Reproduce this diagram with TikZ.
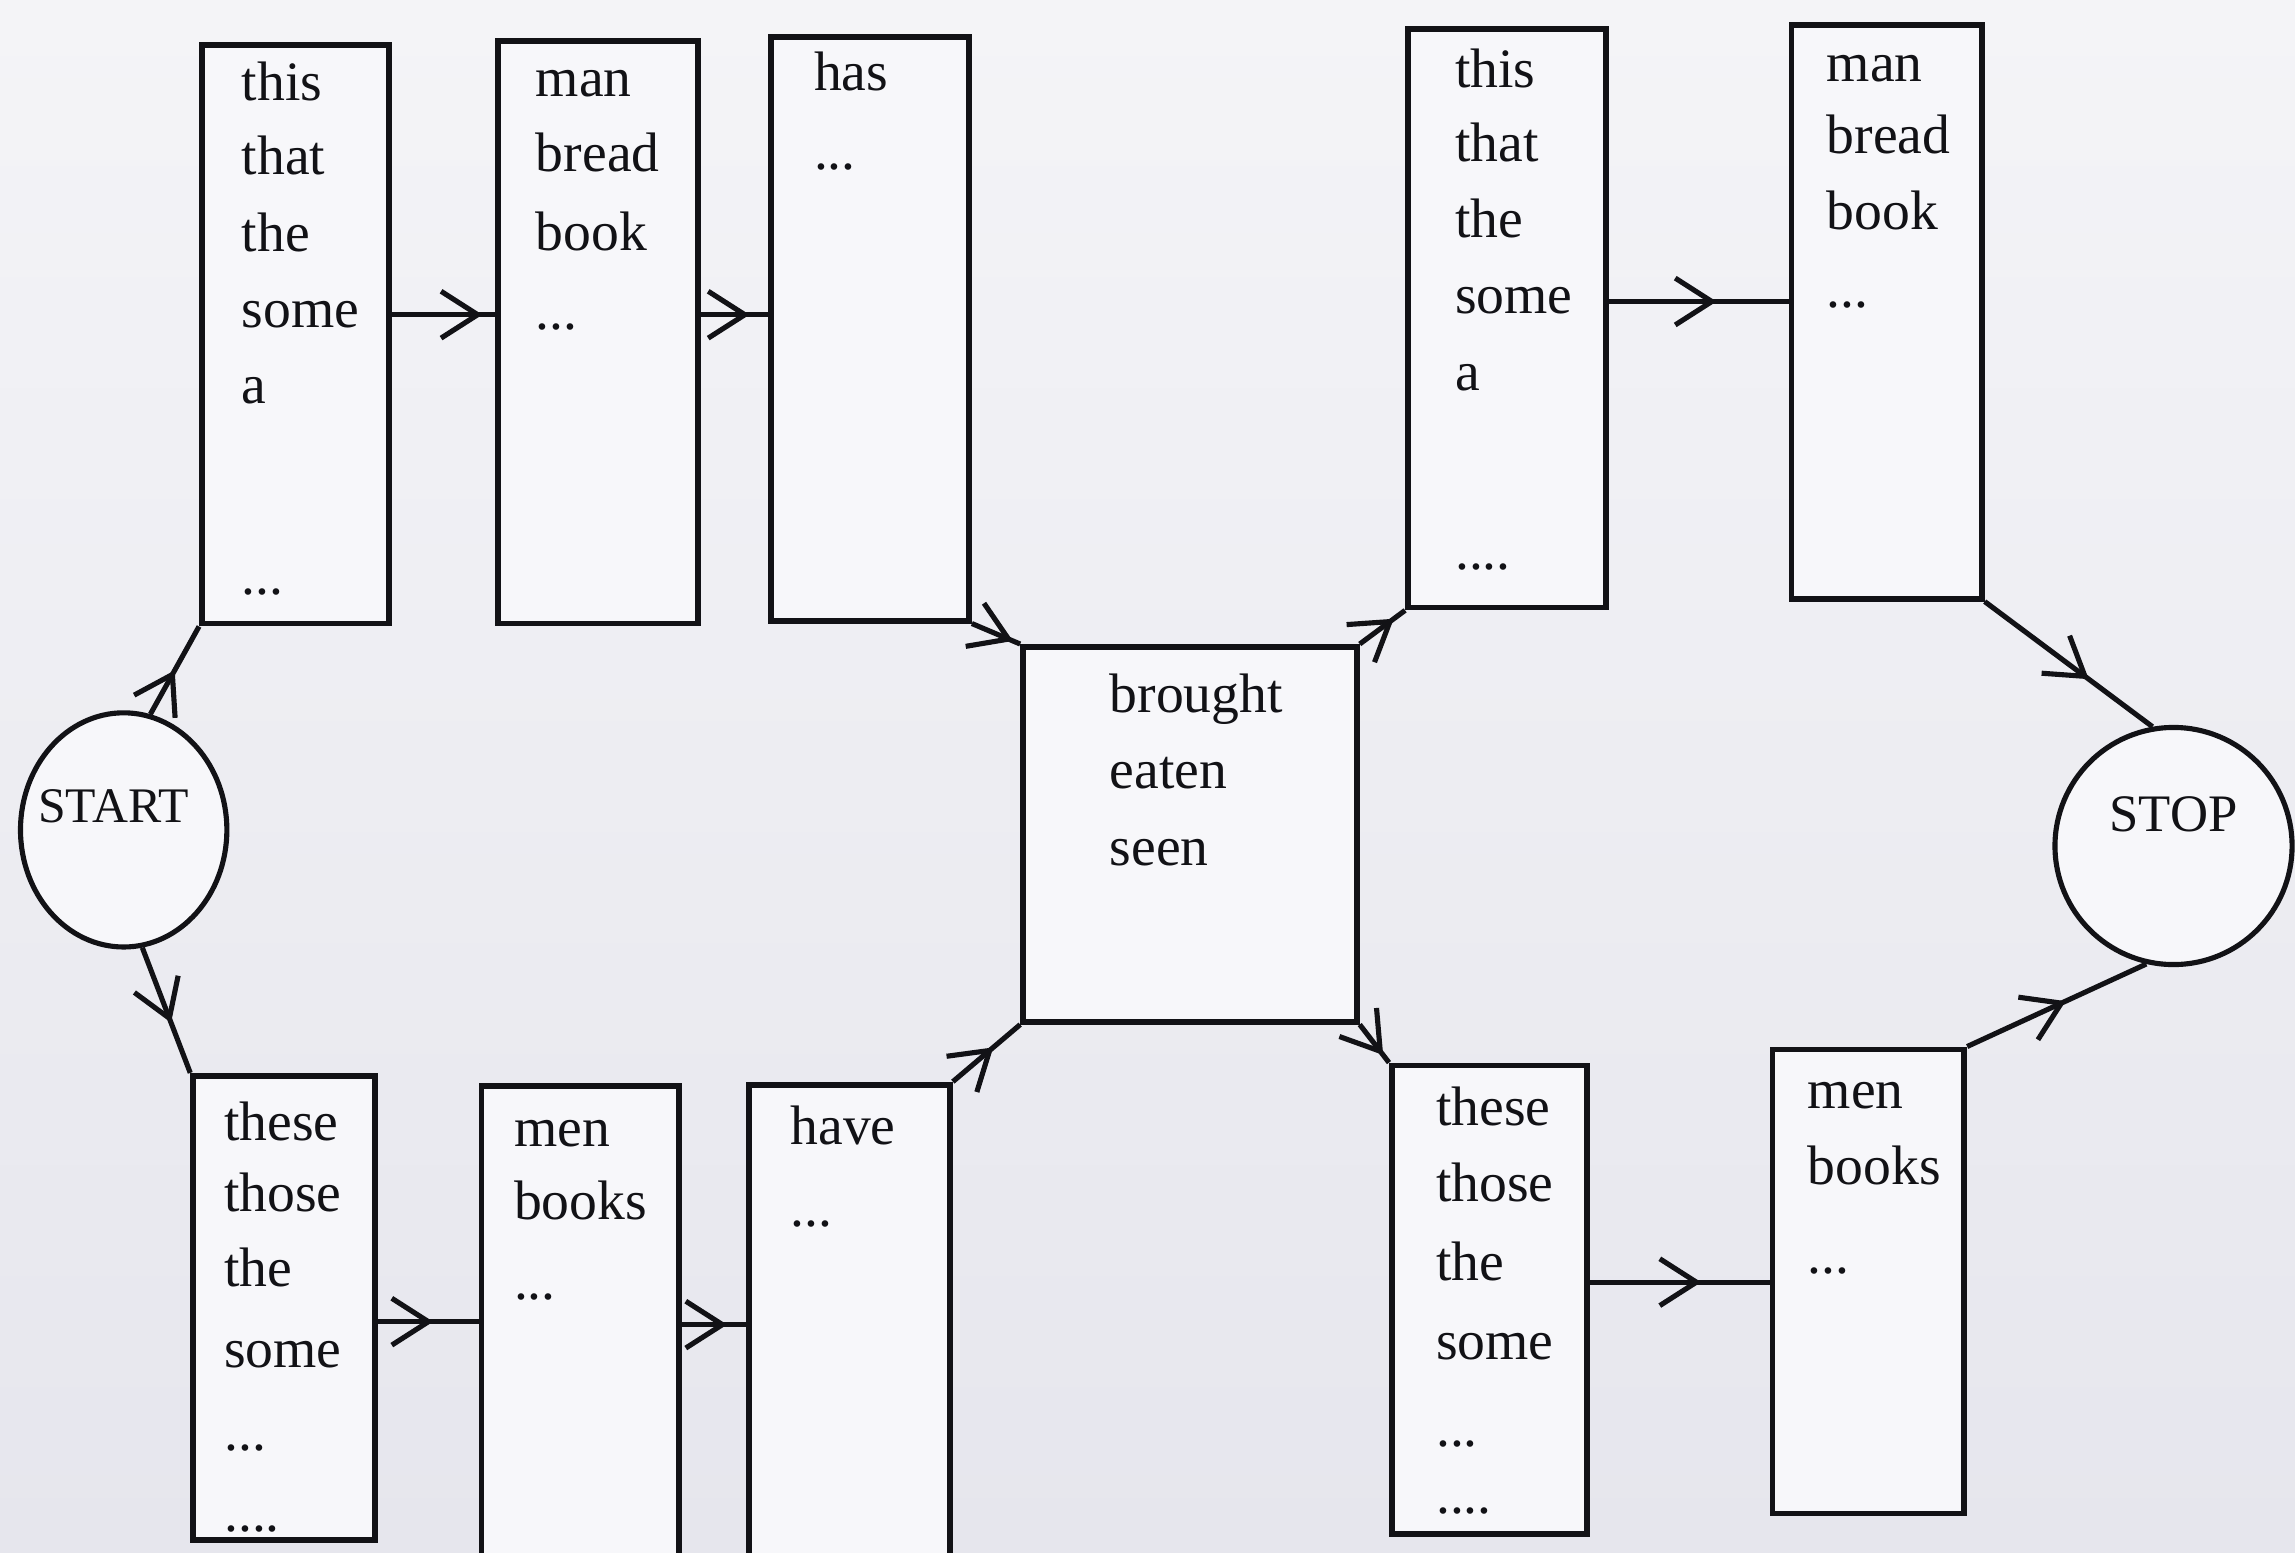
\documentclass[tikz,border=0pt]{standalone}
\usepackage{fontspec}
\setmainfont{Liberation Serif}
\usetikzlibrary{arrows.meta,decorations.markings,shapes.geometric}
\definecolor{bgtop}{RGB}{244,244,247}
\definecolor{bgbot}{RGB}{230,230,237}
\definecolor{boxfill}{RGB}{247,247,250}
\definecolor{ink}{RGB}{18,18,22}
\newcommand\mydthree{...}
\newcommand\mydfour{....}
\begin{document}
\begin{tikzpicture}[x=1pt,y=-1pt,
  box/.style={draw=ink, line width=4pt, fill=boxfill, rectangle, inner sep=0pt, anchor=north west},
  word/.style={anchor=base west, inner sep=0pt, text=ink, font=\fontsize{38}{40}\selectfont},
  term/.style={draw=ink, line width=3.5pt, inner sep=0pt, text=ink, fill=boxfill},
  flow/.style={draw=ink, line width=3.5pt, postaction={decorate},
    decoration={markings, mark=at position #1 with {\arrow{Straight Barb[length=25pt,width=32pt,line width=3.5pt]}}}}
]
\useasboundingbox (0,0) rectangle (1568,1061);
\shade[top color=bgtop, bottom color=bgbot] (0,0) rectangle (1568,1061);
\clip (0,0) rectangle (1568,1061);

% terminals
\node[term, ellipse, minimum width=141pt, minimum height=160pt, font=\fontsize{34}{36}\selectfont] (start) at (84.5,567)
  {\makebox[0pt]{\raisebox{5pt}[0pt][0pt]{START}\hspace{14pt}}};
\node[term, circle, minimum size=162pt, font=\fontsize{36}{38}\selectfont] (stop) at (1485,578)
  {\makebox[0pt]{\raisebox{10pt}[0pt][0pt]{STOP}}};

% upper row
\node[box, minimum width=128pt, minimum height=395pt] (a1) at (136,29) {};
\node[box, minimum width=137pt, minimum height=398pt] (a2) at (338,26) {};
\node[box, minimum width=135pt, minimum height=399pt] (a3) at (525,23) {};
\node[box, minimum width=228pt, minimum height=256pt] (ctr) at (697,440) {};
\node[box, minimum width=135pt, minimum height=395pt] (a4) at (960,18) {};
\node[box, minimum width=130pt, minimum height=392pt] (a5) at (1222,15) {};
% lower row
\node[box, minimum width=124pt, minimum height=317pt] (b1) at (130,733) {};
\node[box, minimum width=135pt, minimum height=340pt] (b2) at (327,740) {};
\node[box, minimum width=137pt, minimum height=340pt] (b3) at (510,739) {};
\node[box, minimum width=133pt, minimum height=320pt] (b4) at (949,726) {};
\node[box, minimum width=131pt, minimum height=317pt] (b5) at (1209,715) {};

% words
\foreach \w/\yy [count=\i] in {this/69, that/119, the/172, some/224, a/276, \mydthree/406}
  \node[word] (a1w\i) at (165,\yy) {\w};
\foreach \w/\yy [count=\i] in {man/66, bread/117, book/171, \mydthree/225}
  \node[word] (a2w\i) at (366,\yy) {\w};
\foreach \w/\yy [count=\i] in {has/62, \mydthree/116}
  \node[word] (a3w\i) at (556,\yy) {\w};
\foreach \w/\yy [count=\i] in {brought/487, eaten/539, seen/591}
  \node[word] (cw\i) at (758,\yy) {\w};
\foreach \w/\yy [count=\i] in {this/60, that/110, the/162, some/214, a/267, \mydfour/389}
  \node[word] (a4w\i) at (994,\yy) {\w};
\foreach \w/\yy [count=\i] in {man/56, bread/105, book/157, \mydthree/210}
  \node[word] (a5w\i) at (1248,\yy) {\w};
\foreach \w/\yy [count=\i] in {these/779, those/828, the/879, some/934, \mydthree/991, \mydfour/1046}
  \node[word] (b1w\i) at (153,\yy) {\w};
\foreach \w/\yy [count=\i] in {men/783, books/833, \mydthree/888}
  \node[word] (b2w\i) at (351,\yy) {\w};
\foreach \w/\yy [count=\i] in {have/782, \mydthree/838}
  \node[word] (b3w\i) at (540,\yy) {\w};
\foreach \w/\yy [count=\i] in {these/769, those/821, the/875, some/929, \mydthree/988, \mydfour/1034}
  \node[word] (b4w\i) at (981,\yy) {\w};
\foreach \w/\yy [count=\i] in {men/757, books/809, \mydthree/870}
  \node[word] (b5w\i) at (1235,\yy) {\w};

% connectors
\draw[flow=0.5] (start.77) -- (a1.south west);
\draw[flow=0.6] (start.-81) -- (b1.north west);
\draw[flow=0.88] (a1.east |- 0,215) -- (a2.west |- 0,215);
\draw[flow=0.72] (a2.east |- 0,215) -- (a3.west |- 0,215);
\draw[flow=0.85] (a3.south east) -- (ctr.north west);
\draw[flow=0.75] (ctr.north east) -- (a4.south west);
\draw[flow=0.6] (a4.east |- 0,206) -- (a5.west |- 0,206);
\draw[flow=0.62] (a5.south east) -- (stop.100);
\draw[flow=0.55] (b1.east |- 0,903) -- (b2.west |- 0,903);
\draw[flow=0.7] (b2.east |- 0,905) -- (b3.west |- 0,905);
\draw[flow=0.6] (b3.north east) -- (ctr.south west);
\draw[flow=0.8] (ctr.south east) -- (b4.north west);
\draw[flow=0.62] (b4.east |- 0,876) -- (b5.west |- 0,876);
\draw[flow=0.55] (b5.north east) -- (stop.257);
\end{tikzpicture}
\end{document}
